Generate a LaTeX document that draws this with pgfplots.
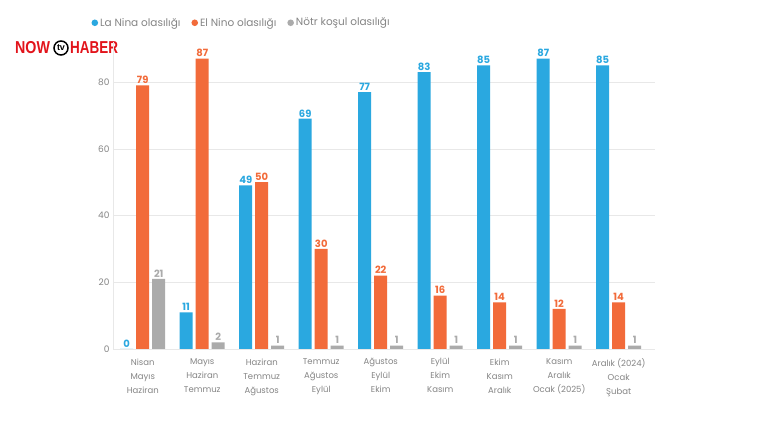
\documentclass[border=0pt]{standalone}
\usepackage{pgfplots}
\pgfplotsset{compat=1.18}
\usepackage{fontspec}
\setmainfont{Poppins}
\newfontfamily\logofont{Liberation Sans}
\definecolor{cblue}{HTML}{2AA8E0}
\definecolor{corange}{HTML}{F26B3A}
\definecolor{cgray}{HTML}{ABABAB}
\definecolor{ctext}{HTML}{858585}
\definecolor{cgrid}{HTML}{E8E8E8}
\definecolor{logored}{HTML}{E2141B}
\begin{document}
\begin{tikzpicture}[x=1pt,y=1pt]
\fill[white] (0,0) rectangle (760,428);
\path[use as bounding box] (0,0) rectangle (760,428);
% logo
\node[anchor=west, inner sep=0, text=logored, font=\logofont\bfseries\fontsize{15}{15}\selectfont] at (15,380) {\scalebox{0.95}[1.15]{NOW}};
\draw[black, line width=1.5pt] (61,380) circle (7);
\node[inner sep=0, font=\logofont\bfseries\fontsize{9}{9}\selectfont] at (61,380) {tv};
\node[anchor=west, inner sep=0, text=logored, font=\logofont\bfseries\fontsize{15}{15}\selectfont] at (70,380) {\scalebox{0.9}[1.15]{HABER}};
\begin{axis}[
  at={(113pt,79pt)}, anchor=south west, scale only axis,
  width=542pt, height=307pt,
  ybar=3pt, bar width=13pt,
  xmin=-0.5, xmax=8.61, ymin=0, ymax=92,
  xtick={0,...,8},
  xticklabels={{Nisan\\Mayıs\\Haziran},{Mayıs\\Haziran\\Temmuz},{Haziran\\Temmuz\\Ağustos},{Temmuz\\Ağustos\\Eylül},{Ağustos\\Eylül\\Ekim},{Eylül\\Ekim\\Kasım},{Ekim\\Kasım\\Aralık},{Kasım\\Aralık\\Ocak (2025)},{Aralık (2024)\\Ocak\\Şubat}},
  x tick label style={align=center, font=\fontsize{8.5}{14}\selectfont, text=ctext, yshift=-6pt},
  ytick={0,20,40,60,80},
  y tick label style={font=\fontsize{9}{9}\selectfont, text=ctext},
  /pgf/number format/assume math mode=true,
  major tick length=0pt,
  axis x line*=bottom, axis y line*=left,
  axis line style={draw=cgrid, -},
  ymajorgrids, grid style={draw=cgrid},
  nodes near coords,
  nodes near coords style={font=\bfseries\fontsize{10}{10}\selectfont, inner sep=1.5pt},
  legend columns=3,
  legend style={at={(axis description cs:-0.04,1.04)}, anchor=south west, draw=none, fill=none, font=\fontsize{10.5}{12}\selectfont, text=ctext, inner sep=0pt, /tikz/every even column/.append style={column sep=9pt}},
  legend image code/.code={\fill[#1] (2pt,0pt) circle (3.3pt);},
]
\addplot[fill=cblue, draw=none, nodes near coords style={text=cblue}] coordinates {(0,0) (1,11) (2,49) (3,69) (4,77) (5,83) (6,85) (7,87) (8,85)};
\addplot[fill=corange, draw=none, nodes near coords style={text=corange}] coordinates {(0,79) (1,87) (2,50) (3,30) (4,22) (5,16) (6,14) (7,12) (8,14)};
\addplot[fill=cgray, draw=none, nodes near coords style={text=cgray}] coordinates {(0,21) (1,2) (2,1) (3,1) (4,1) (5,1) (6,1) (7,1) (8,1)};
\legend{La Nina olasılığı, El Nino olasılığı, Nötr koşul olasılığı}
\end{axis}
\end{tikzpicture}
\end{document}
